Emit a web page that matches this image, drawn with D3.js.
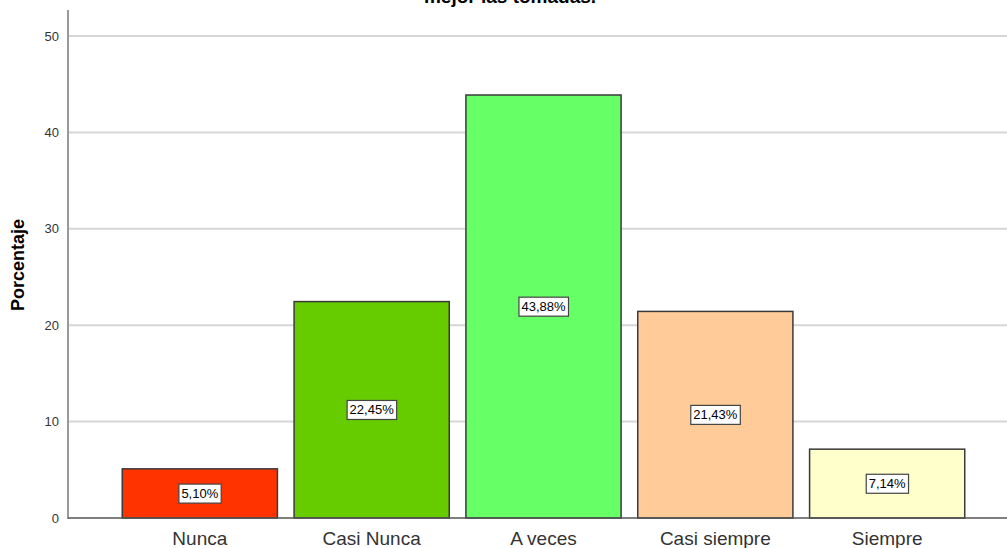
<!DOCTYPE html>
<html>
<head>
<meta charset="utf-8">
<script src="https://cdn.jsdelivr.net/npm/d3@7"></script>
<style>
  body { margin: 0; background: #fff; }
  svg { font-family: Arial, "Liberation Sans", sans-serif; }
</style>
</head>
<body>
<svg id="chart" width="1007" height="548"></svg>
<script>
const categories = ["Nunca", "Casi Nunca", "A veces", "Casi siempre", "Siempre"]
const percentages = [5.10, 22.45, 43.88, 21.43, 7.14]
const barColors = ["#ff3300", "#66cc00", "#66ff66", "#ffcc99", "#ffffcc"]
const yTicks = [0, 10, 20, 30, 40, 50]

const svg = d3.select("#chart")

const x = d3.scaleBand()
  .domain(categories)
  .range([114, 973])
  .paddingInner(0.097)
  .paddingOuter(0.048)

const y = d3.scaleLinear()
  .domain([0, 50])
  .range([518, 36])

// title, cut off at the top like the original
svg.append("text")
  .attr("x", 510)
  .attr("y", 3)
  .attr("text-anchor", "middle")
  .attr("font-weight", "bold")
  .attr("font-size", 19)
  .attr("fill", "#000")
  .text("mejor las tomadas.")

// gridlines
svg.append("g")
  .selectAll("line")
  .data(yTicks.filter(d => d > 0))
  .enter()
  .append("line")
  .attr("x1", 68)
  .attr("x2", 1007)
  .attr("y1", d => y(d))
  .attr("y2", d => y(d))
  .attr("stroke", "#d6d6d6")
  .attr("stroke-width", 2)

// y axis
const yAxis = svg.append("g")
  .attr("transform", "translate(68,0)")
  .call(d3.axisLeft(y).tickValues(yTicks).tickSize(0).tickPadding(9))
yAxis.select(".domain").remove()
yAxis.selectAll("text")
  .attr("font-size", 13)
  .attr("fill", "#333")
  .attr("font-family", "Arial, 'Liberation Sans', sans-serif")

svg.append("line")
  .attr("x1", 68).attr("x2", 68)
  .attr("y1", 10).attr("y2", 519)
  .attr("stroke", "#999")
  .attr("stroke-width", 2)

svg.append("text")
  .attr("transform", "translate(24,265) rotate(-90)")
  .attr("text-anchor", "middle")
  .attr("font-weight", "bold")
  .attr("font-size", 18)
  .attr("fill", "#000")
  .text("Porcentaje")

// bars
svg.append("g")
  .selectAll("rect")
  .data(percentages)
  .enter()
  .append("rect")
  .attr("x", (d, i) => x(categories[i]))
  .attr("y", d => y(d))
  .attr("width", x.bandwidth())
  .attr("height", d => y(0) - y(d))
  .attr("fill", (d, i) => barColors[i])
  .attr("stroke", "#3a3a3a")
  .attr("stroke-width", 1.5)

// baseline
svg.append("line")
  .attr("x1", 68).attr("x2", 1007)
  .attr("y1", 518).attr("y2", 518)
  .attr("stroke", "#555")
  .attr("stroke-width", 1.5)

// x labels
svg.append("g")
  .selectAll("text")
  .data(categories)
  .enter()
  .append("text")
  .attr("x", d => x(d) + x.bandwidth() / 2)
  .attr("y", 545)
  .attr("text-anchor", "middle")
  .attr("font-size", 19)
  .attr("fill", "#333")
  .text(d => d)

// value labels in boxes
const fmt = v => v.toFixed(2).replace(".", ",") + "%"
const labels = svg.append("g")
  .selectAll("g")
  .data(percentages)
  .enter()
  .append("g")
  .attr("transform", (d, i) => `translate(${x(categories[i]) + x.bandwidth() / 2},${(y(d) + y(0)) / 2})`)

labels.append("text")
  .attr("text-anchor", "middle")
  .attr("dy", "0.36em")
  .attr("font-size", 13)
  .attr("fill", "#000")
  .text(d => fmt(d))

labels.each(function() {
  const g = d3.select(this)
  const bb = g.select("text").node().getBBox()
  g.insert("rect", "text")
    .attr("x", bb.x - 2.5)
    .attr("y", bb.y - 2)
    .attr("width", bb.width + 5)
    .attr("height", bb.height + 4)
    .attr("fill", "#fff")
    .attr("stroke", "#444")
    .attr("stroke-width", 1.2)
})
</script>
</body>
</html>
